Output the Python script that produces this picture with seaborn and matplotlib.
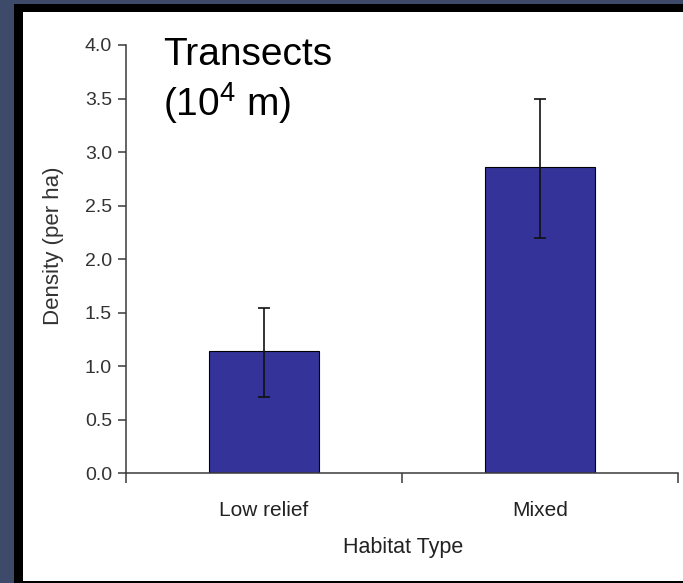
import matplotlib
matplotlib.use("Agg")
import matplotlib.pyplot as plt
from matplotlib.patches import Rectangle
import seaborn as sns
import numpy as np
import pandas as pd

# ---- data ----
habitats = ["Low relief", "Mixed"]
density = [1.14, 2.86]
ci_low = [0.71, 2.20]
ci_high = [1.54, 3.50]
y_ticks = [0.0, 0.5, 1.0, 1.5, 2.0, 2.5, 3.0, 3.5, 4.0]

sns.set_theme(style="white")
plt.rcParams["font.family"] = ["Liberation Sans", "DejaVu Sans"]
plt.rcParams["mathtext.fontset"] = "custom"
plt.rcParams["mathtext.rm"] = "Liberation Sans"
plt.rcParams["mathtext.it"] = "Liberation Sans:italic"

W, H = 683, 583
fig = plt.figure(figsize=(W / 100, H / 100), dpi=100)
fig.patch.set_facecolor("#3e4a69")

# slide frame: black border and white panel
fig.patches.append(Rectangle((14 / W, 0), 1 - 14 / W, (H - 4) / H,
                             transform=fig.transFigure, facecolor="#000000",
                             edgecolor="none", zorder=-10))
fig.patches.append(Rectangle((23 / W, 2 / H), 1 - 23 / W, (H - 12 - 2) / H,
                             transform=fig.transFigure, facecolor="#ffffff",
                             edgecolor="none", zorder=-9))

ax_left, ax_right = 126 / W, 678 / W
ax_bottom, ax_top = (H - 473.3) / H, (H - 45) / H
ax = fig.add_axes([ax_left, ax_bottom, ax_right - ax_left, ax_top - ax_bottom])
ax.set_zorder(1)
ax.set_facecolor("none")

df = pd.DataFrame({"Habitat": habitats, "Density": density})
sns.barplot(data=df, x="Habitat", y="Density", color="#333399",
            saturation=1, width=0.395, edgecolor="#000000", linewidth=0.8,
            errorbar=None, ax=ax)

means = np.array(density)
yerr = np.vstack([means - np.array(ci_low), np.array(ci_high) - means])
ax.errorbar(np.arange(len(habitats)), means, yerr=yerr, fmt="none",
            ecolor="#111111", elinewidth=1.2, capsize=4, capthick=1.2, zorder=5)

ax.set_xlim(-0.5, 1.5)
ax.set_ylim(0, 4.0)
ax.set_yticks(y_ticks)
ax.set_yticklabels([f"{v:.1f}" for v in y_ticks])

for s in ["top", "right"]:
    ax.spines[s].set_visible(False)
for s in ["left", "bottom"]:
    ax.spines[s].set_color("#3a3a3a")
    ax.spines[s].set_linewidth(1.1)

ax.tick_params(axis="y", which="major", direction="out", length=6, width=1.1,
               color="#3a3a3a", labelsize=14, labelcolor="#333333", pad=4, left=True)
ax.set_xticks([0, 1])
ax.set_xticklabels(habitats)
ax.set_xticks([-0.5, 0.5, 1.5], minor=True)
ax.tick_params(axis="x", which="major", length=0, labelsize=15,
               labelcolor="#222222", pad=20, bottom=True)
ax.tick_params(axis="x", which="minor", direction="out", length=7, width=1.1,
               color="#3a3a3a", bottom=True)
ax.set_xlabel("")
ax.set_ylabel("")

fig.text(403 / W, (H - 553) / H, "Habitat Type", ha="center", va="baseline",
         fontsize=15.5, color="#222222")
fig.text(54 / W, (H - 246) / H, "Density (per ha)", ha="center", va="center",
         rotation=90, fontsize=16, color="#333333")

fig.text(163 / W, (H - 65) / H, "Transects", ha="left", va="baseline",
         fontsize=28, color="#000000")
fig.text(163 / W, (H - 116) / H, r"(10$^{\mathregular{4}}$ m)", ha="left",
         va="baseline", fontsize=28, color="#000000")

fig.savefig("out.png", dpi=100, facecolor=fig.get_facecolor())
